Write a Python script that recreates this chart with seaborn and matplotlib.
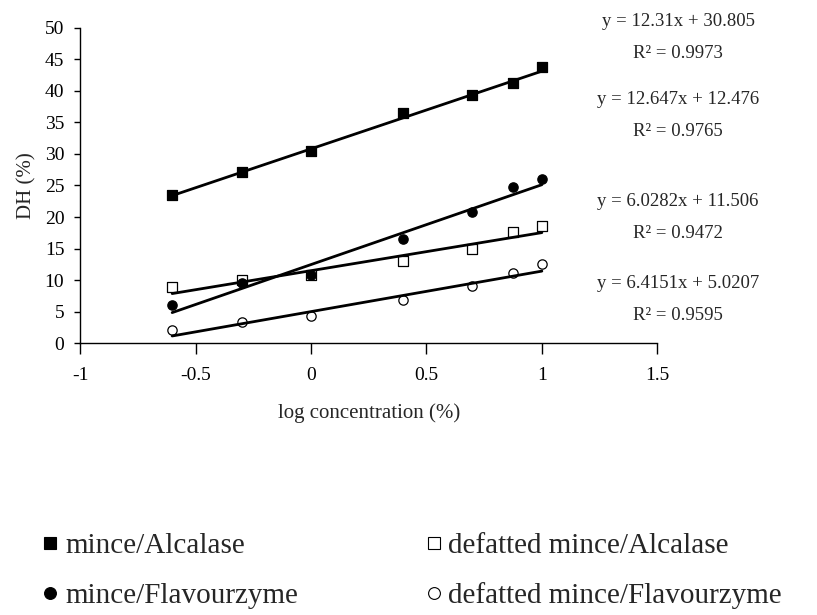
import numpy as np
import matplotlib
matplotlib.use("Agg")
import matplotlib.pyplot as plt
from matplotlib.lines import Line2D
import seaborn as sns

# log10 of enzyme concentration (%)
log_conc = [-0.602, -0.301, 0.0, 0.398, 0.699, 0.875, 1.0]

# degree of hydrolysis, DH (%)
mince_alcalase = [23.5, 27.2, 30.5, 36.5, 39.4, 41.2, 43.7]
defatted_alcalase = [8.9, 10.1, 10.8, 13.1, 15.0, 17.6, 18.6]
mince_flavourzyme = [6.1, 9.5, 10.8, 16.6, 20.8, 24.7, 26.0]
defatted_flavourzyme = [2.1, 3.4, 4.3, 6.9, 9.1, 11.1, 12.6]

series_names = ["mince/Alcalase", "defatted mince/Alcalase",
                "mince/Flavourzyme", "defatted mince/Flavourzyme"]

# linear trendlines: DH = slope * log_conc + intercept
slopes = [12.31, 6.0282, 12.647, 6.4151]
intercepts = [30.805, 11.506, 12.476, 5.0207]
r_squared = [0.9973, 0.9472, 0.9765, 0.9595]
slope_labels = ["12.31", "6.0282", "12.647", "6.4151"]
intercept_labels = ["30.805", "11.506", "12.476", "5.0207"]
r2_labels = ["0.9973", "0.9472", "0.9765", "0.9595"]

x_ticks = [-1, -0.5, 0, 0.5, 1, 1.5]
x_tick_labels = ["-1", "-0.5", "0", "0.5", "1", "1.5"]
y_ticks = [0, 5, 10, 15, 20, 25, 30, 35, 40, 45, 50]

sns.set_style("ticks")
plt.rcParams["font.family"] = ["Liberation Serif", "DejaVu Serif"]

fig = plt.figure(figsize=(8.17, 6.15), dpi=100)
ax = fig.add_axes([0.0983, 0.4418, 0.7062, 0.5132])

values = [mince_alcalase, defatted_alcalase, mince_flavourzyme, defatted_flavourzyme]
markers = ["s", "s", "o", "o"]
faces = ["black", "white", "black", "white"]
sizes = [55, 45, 45, 45]

for vals, mk, fc, sz, name in zip(values, markers, faces, sizes, series_names):
    sns.scatterplot(x=log_conc, y=vals, marker=mk, s=sz, color=fc,
                    edgecolor="black", linewidth=0.9, ax=ax, zorder=3,
                    legend=False)

x_fit = np.array([log_conc[0], log_conc[-1]])
for m, b in zip(slopes, intercepts):
    sns.lineplot(x=x_fit, y=m * x_fit + b, color="black", linewidth=2.0,
                 ax=ax, zorder=4, legend=False)

ax.set_xlim(-1, 1.5)
ax.set_ylim(0, 50)
ax.set_xticks(x_ticks)
ax.set_xticklabels(x_tick_labels)
ax.set_yticks(y_ticks)
ax.tick_params(axis="x", direction="out", length=8, width=1, pad=9,
               labelsize=14, colors="black")
ax.tick_params(axis="y", direction="out", length=4, width=1, pad=7.5,
               labelsize=14, colors="black")
for side in ("top", "right"):
    ax.spines[side].set_visible(False)
for side in ("left", "bottom"):
    ax.spines[side].set_linewidth(1.0)
    ax.spines[side].set_color("black")

ax.set_xlabel("log concentration (%)", fontsize=15)
ax.set_ylabel("DH (%)", fontsize=15)
ax.xaxis.set_label_coords(0.5, -0.19)
ax.yaxis.set_label_coords(-0.076, 0.5)

# trendline equations, listed from top to bottom
eq_order = [0, 2, 1, 3]
eq_rows = [(21.7, 53.0), (100.0, 131.7), (201.0, 233.0), (283.0, 316.0)]
fig_h = 615.0
for idx, (y_eq, y_r2) in zip(eq_order, eq_rows):
    fig.text(678 / 817, 1 - y_eq / fig_h,
             f"y = {slope_labels[idx]}x + {intercept_labels[idx]}",
             ha="center", va="center", fontsize=13.5)
    fig.text(678 / 817, 1 - y_r2 / fig_h, f"R\u00b2 = {r2_labels[idx]}",
             ha="center", va="center", fontsize=13.5)

handles = []
for mk, fc in zip(markers, faces):
    handles.append(Line2D([], [], linestyle="none", marker=mk, markersize=8.5,
                          markerfacecolor=fc, markeredgecolor="black",
                          markeredgewidth=0.8))
order = [0, 2, 1, 3]
fig.legend([handles[i] for i in order], [series_names[i] for i in order],
           ncol=2, loc="upper left", bbox_to_anchor=(0.051, 0.134),
           frameon=False, fontsize=21, handlelength=0.6, handletextpad=0.2,
           columnspacing=4.35, labelspacing=0.8, borderaxespad=0,
           borderpad=0)

fig.savefig("out.png", dpi=100)
